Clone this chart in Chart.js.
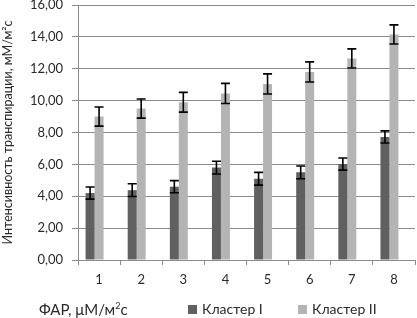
<!DOCTYPE html>
<html>
<head>
<meta charset="utf-8">
<script src="https://cdn.jsdelivr.net/npm/chart.js@4"></script>
<style>
  body { margin: 0; background: #fff; }
  #wrap { position: relative; width: 417px; height: 318px; }
  #bottom { position: absolute; left: 0; top: 300px; width: 417px; height: 18px;
            font: 14px Lato, sans-serif; color: #2a2a2a; }
  #bottom span { position: absolute; top: 0; white-space: nowrap; line-height: 18px; }
  #xtitle { font-size: 15px; }
  .box { display: inline-block; width: 9px; height: 9px; margin-right: 5px; vertical-align: 0px; }
</style>
</head>
<body>
<div id="wrap">
  <canvas id="transpChart"></canvas>
  <div id="bottom">
    <span id="xtitle" style="left:39px">ФАР, μМ/м<sup style="font-size:9px;line-height:0">2</sup>с</span>
    <span id="leg1" style="left:188px"></span>
    <span id="leg2" style="left:298px"></span>
  </div>
</div>
<script>
const categories = ['1', '2', '3', '4', '5', '6', '7', '8'];
const cluster1 = [4.2, 4.38, 4.6, 5.8, 5.1, 5.5, 6.02, 7.72];
const cluster1Err = [0.38, 0.4, 0.38, 0.4, 0.4, 0.4, 0.38, 0.38];
const cluster2 = [9.0, 9.5, 9.9, 10.45, 11.05, 11.8, 12.65, 14.15];
const cluster2Err = [0.6, 0.6, 0.62, 0.63, 0.63, 0.63, 0.6, 0.6];
const yTicks = [0, 2, 4, 6, 8, 10, 12, 14, 16];
// empty third series, it only keeps the space like in the original sheet
const emptySeries = [null, null, null, null, null, null, null, null];

const gridColor = '#8c8c8c';
const textColor = '#2a2a2a';

// draws the +- error whiskers over each bar
const errorBars = {
    id: 'errorBars',
    afterDatasetsDraw(chart) {
        const ctx = chart.ctx;
        const y = chart.scales.y;
        ctx.save();
        ctx.strokeStyle = '#000';
        ctx.lineWidth = 1.6;
        chart.data.datasets.forEach((ds, i) => {
            if (!ds.errors) return;
            chart.getDatasetMeta(i).data.forEach((bar, j) => {
                const v = ds.data[j];
                const e = ds.errors[j];
                const top = y.getPixelForValue(v + e);
                const bottom = y.getPixelForValue(v - e);
                const x = bar.x;
                ctx.beginPath();
                ctx.moveTo(x, top);
                ctx.lineTo(x, bottom);
                ctx.moveTo(x - 4.5, top);
                ctx.lineTo(x + 4.5, top);
                ctx.moveTo(x - 4.5, bottom);
                ctx.lineTo(x + 4.5, bottom);
                ctx.stroke();
            });
        });
        ctx.restore();
    }
};

const ctx = document.getElementById('transpChart').getContext('2d');
const chart = new Chart(ctx, {
    type: 'bar',
    data: {
        labels: categories,
        datasets: [{
            label: 'Кластер I',
            data: cluster1,
            errors: cluster1Err,
            backgroundColor: '#606060'
        }, {
            label: 'Кластер II',
            data: cluster2,
            errors: cluster2Err,
            backgroundColor: '#b4b4b4'
        }, {
            label: '',
            data: emptySeries,
            backgroundColor: 'rgba(0,0,0,0)'
        }]
    },
    options: {
        responsive: true,
        maintainAspectRatio: false,
        animation: false,
        layout: { padding: { left: 0, right: 2, top: 0, bottom: 30 } },
        datasets: {
            bar: { categoryPercentage: 0.64, barPercentage: 1 }
        },
        scales: {
            x: {
                grid: { drawOnChartArea: false, offset: true, tickLength: 5, color: gridColor },
                border: { color: gridColor },
                ticks: { color: textColor, padding: 7, font: { family: 'Lato', size: 13 } },
                afterFit(scale) { scale.height = 28; }
            },
            y: {
                min: 0,
                max: 16,
                afterBuildTicks(scale) { scale.ticks = yTicks.map(v => ({ value: v })); },
                grid: { color: gridColor, tickLength: 6 },
                border: { color: gridColor },
                ticks: {
                    color: textColor,
                    padding: 9,
                    font: { family: 'Lato', size: 13 },
                    callback: v => v.toFixed(2).replace('.', ',')
                },
                title: {
                    display: true,
                    text: 'Интенсивность транспирации, мМ/м²с',
                    color: textColor,
                    padding: { top: 0, bottom: 0 },
                    font: { family: 'Lato', size: 12.5 }
                },
                afterFit(scale) { scale.width = 78; scale.paddingTop = 5; }
            }
        },
        plugins: {
            legend: { display: false },
            tooltip: { enabled: false }
        }
    },
    plugins: [errorBars]
});

// html legend from the two real series
['leg1', 'leg2'].forEach((id, i) => {
    const ds = chart.data.datasets[i];
    document.getElementById(id).innerHTML =
        '<i class="box" style="background:' + ds.backgroundColor + '"></i>' + ds.label;
});
</script>
</body>
</html>
